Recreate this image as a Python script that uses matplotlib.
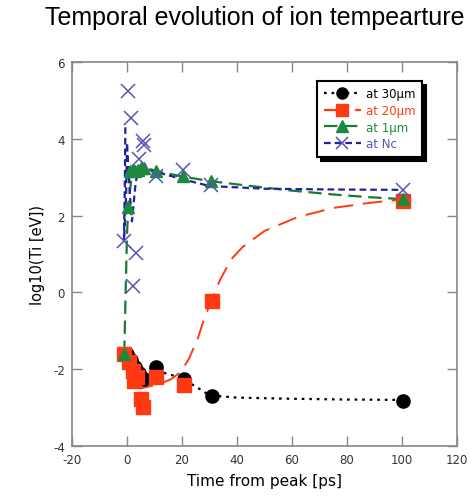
import matplotlib
matplotlib.use("Agg")
import matplotlib.pyplot as plt
from matplotlib.lines import Line2D

# ---- data ----
# markers
t30 = [0, 1.5, 3, 4.5, 6, 10.5, 20.7, 30.9, 100.4]
y30 = [-1.6, -1.75, -1.95, -2.1, -2.25, -1.95, -2.26, -2.7, -2.83]

t20 = [-1, 0.7, 2.0, 2.5, 3.5, 5.0, 5.7, 10.5, 20.7, 30.9, 100.4]
y20 = [-1.6, -1.8, -2.05, -2.3, -2.2, -2.78, -2.98, -2.2, -2.4, -0.22, 2.38]

t1 = [-1, 0.4, 1.0, 2.0, 3.0, 4.0, 5.0, 6.0, 10.5, 20.4, 30.5, 100.4]
y1 = [-1.6, 2.22, 3.15, 3.2, 3.15, 3.2, 3.25, 3.25, 3.16, 3.03, 2.9, 2.43]

tNc = [-1, 0.4, 1.5, 2.2, 3.3, 4.4, 5.8, 6.2, 10.5, 20.3, 30.5, 100.4]
yNc = [1.34, 5.24, 4.54, 0.17, 1.03, 3.47, 3.94, 3.84, 3.03, 3.19, 2.8, 2.67]

# curves
c30_t = [0, 3, 6, 8, 10, 15, 20, 25, 30, 40, 60, 80, 100]
c30_y = [-1.55, -1.9, -2.22, -2.15, -2.05, -2.12, -2.25, -2.45, -2.68, -2.74, -2.77, -2.79, -2.8]

c20_t = [3, 5, 8, 12, 16, 19.6, 22.5, 25.7, 28, 31, 34, 38, 42, 50, 62, 75, 88, 100]
c20_y = [-2.4, -2.5, -2.45, -2.38, -2.26, -2.07, -1.73, -1.21, -0.7, -0.15, 0.35, 0.87, 1.18, 1.6, 1.96, 2.2, 2.33, 2.42]

c1_t = [-1, -0.5, 0, 0.5, 1.5, 3, 5, 7, 10, 20, 30, 45, 60, 75, 88, 100]
c1_y = [-1.6, 0, 1.5, 2.3, 2.9, 3.15, 3.25, 3.25, 3.17, 3.02, 2.9, 2.77, 2.65, 2.55, 2.48, 2.43]

cNc_t = [-0.6, -0.8, -1.1, -0.3, 0.0, 1.0, 1.8, 3.2, 4.5, 7, 10, 20, 30, 50, 75, 100]
cNc_y = [4.3, 2.8, 1.35, 2.6, 3.9, 2.6, 1.85, 2.9, 3.2, 3.22, 3.15, 2.95, 2.77, 2.7, 2.68, 2.67]

labels = ["at 30\u00b5m", "at 20\u00b5m", "at 1\u00b5m", "at Nc"]
xticks = [-20, 0, 20, 40, 60, 80, 100, 120]
yticks = [-4, -2, 0, 2, 4, 6]

BLACK = "#000000"
RED = "#ff3a12"
GREEN = "#1c8a3c"
GREEN_L = "#1a7a32"
BLUE = "#22229a"
BLUE_M = "#5555b5"

plt.rcParams['font.family'] = ['DejaVu Sans']
fig = plt.figure(figsize=(4.71, 5.02), dpi=100)
ax = fig.add_axes([72/471, 1-447/502, (457-72)/471, (447-63)/502])

# curves
ax.plot(c30_t, c30_y, color=BLACK, lw=1.6, ls=(0, (1.2, 2.2)), zorder=3)
ax.plot(c20_t, c20_y, color=RED, lw=1.4, ls=(0, (10, 5)), zorder=3)
ax.plot(c1_t, c1_y, color=GREEN_L, lw=1.6, ls=(0, (6, 3)), zorder=3)
ax.plot(cNc_t, cNc_y, color=BLUE, lw=1.6, ls=(0, (3, 1.8)), zorder=3)

# markers
ax.plot(t30, y30, ls='none', marker='o', ms=9.5, color=BLACK, zorder=4)
ax.plot(t20, y20, ls='none', marker='s', ms=9.5, color=RED, mec=RED, zorder=5)
ax.plot(t1, y1, ls='none', marker='^', ms=9, color=GREEN, zorder=6)
ax.plot(tNc, yNc, ls='none', marker='x', ms=10, mew=1.1, color=BLUE_M, zorder=7)

ax.set_xlim(-20, 120)
ax.set_ylim(-4, 6)
ax.set_xticks(xticks)
ax.set_yticks(yticks)
ax.tick_params(direction='in', length=7, width=1, color='#888888',
               top=True, right=True, labelsize=8.5, labelcolor='#333333', pad=5)
ax.set_xticklabels([str(v) for v in xticks])
ax.set_yticklabels([str(v) for v in yticks])
for s in ax.spines.values():
    s.set_color('#888888')
    s.set_linewidth(1.2)

ax.set_xlabel("Time from peak [ps]", fontsize=11, labelpad=5)
ax.set_ylabel("log10(Ti [eV])", fontsize=10.5, labelpad=6)

fig.text(255/471, 1-18/502, "Temporal evolution of ion tempearture",
         ha='center', va='center', fontsize=18, family='Liberation Sans')

handles = [
    Line2D([], [], color=BLACK, lw=1.6, ls=(0, (1.2, 2.2)), marker='o', ms=8),
    Line2D([], [], color=RED, lw=1.6, ls=(0, (9, 5)), marker='s', ms=8),
    Line2D([], [], color=GREEN_L, lw=1.6, ls=(0, (6, 3)), marker='^', ms=8, mfc=GREEN, mec=GREEN),
    Line2D([], [], color=BLUE, lw=1.6, ls=(0, (3, 1.8)), marker='x', ms=9, mew=1.1, mec=BLUE_M),
]
leg = ax.legend(handles, labels, loc='upper right', bbox_to_anchor=(0.925, 0.966),
                fontsize=8.5, frameon=True, fancybox=False,
                shadow={'color': 'black', 'alpha': 1.0, 'ox': 3, 'oy': -3},
                edgecolor='black', handlelength=3.2, handletextpad=0.4,
                labelspacing=0.3, borderpad=0.55, framealpha=1)
leg.get_frame().set_linewidth(1.5)
for txt, c in zip(leg.get_texts(), [BLACK, RED, GREEN, BLUE_M]):
    txt.set_color(c)

fig.savefig("out.png", dpi=100)
